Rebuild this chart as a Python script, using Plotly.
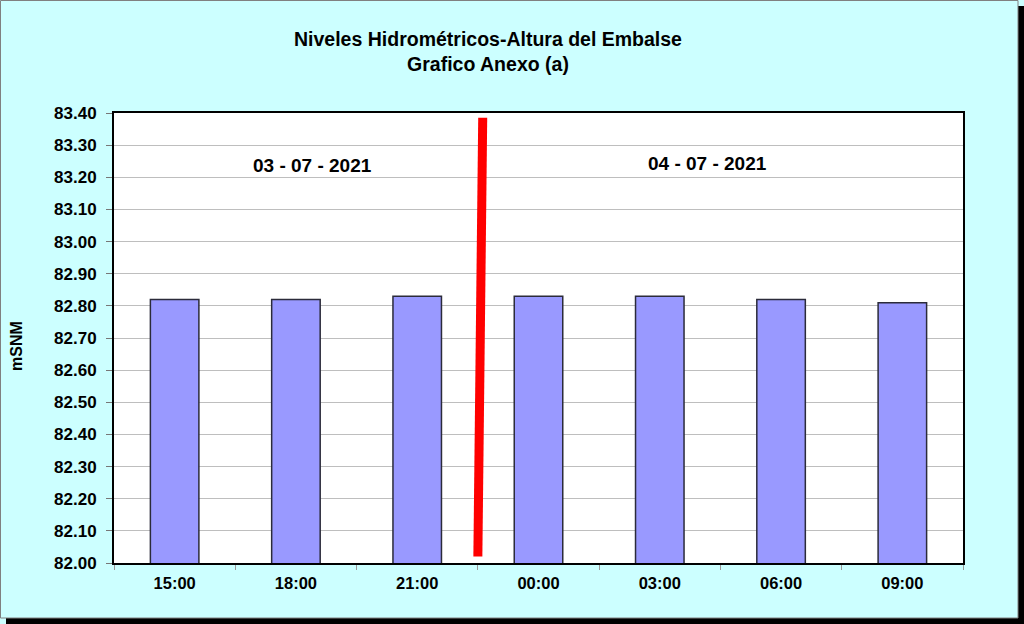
import plotly.graph_objects as go

# Reservoir level readings (m above sea level)
hours = ["15:00", "18:00", "21:00", "00:00", "03:00", "06:00", "09:00"]
levels = [82.82, 82.82, 82.83, 82.83, 82.83, 82.82, 82.81]
day_labels = ["03 - 07 - 2021", "04 - 07 - 2021"]
# red day-change marker, in axis units (category index, mSNM)
divider_x = [2.50, 2.54]
divider_y = [82.02, 83.385]
y_ticks = [82.0 + i * 0.1 for i in range(15)]

BG = "#CCFFFF"
BAR = "#9999FF"
FONT = "Arial, Liberation Sans, sans-serif"

# plot area in pixels, used to place frame pieces in paper coords
L, R, T, B = 114, 963, 113, 563
W, H = 1024, 624


def px(x):
    return (x - L) / (R - L)


def py(y):
    return (B - y) / (B - T)


fig = go.Figure()
fig.add_trace(go.Bar(
    x=hours, y=levels,
    marker=dict(color=BAR, line=dict(color="#2b2b3a", width=1.5)),
    width=0.4,
    hoverinfo="x+y",
))

fig.add_shape(type="line", xref="x", yref="y",
              x0=divider_x[0], y0=divider_y[0], x1=divider_x[1], y1=divider_y[1],
              line=dict(color="#FF0000", width=9), layer="above")

# drop shadow + thin outer border of the chart frame
fig.add_shape(type="rect", xref="paper", yref="paper",
              x0=px(1018), x1=px(W), y0=py(6), y1=py(H),
              fillcolor="black", line_width=0, layer="below")
fig.add_shape(type="rect", xref="paper", yref="paper",
              x0=px(6), x1=px(W), y0=py(618), y1=py(H),
              fillcolor="black", line_width=0, layer="below")
fig.add_shape(type="rect", xref="paper", yref="paper",
              x0=px(0.5), x1=px(1018), y0=py(0.5), y1=py(618),
              fillcolor="rgba(0,0,0,0)", line=dict(color="#808080", width=1), layer="below")


def label(text, x, y, size, angle=0):
    return dict(text="<b>%s</b>" % text, x=px(x), y=py(y), xref="paper", yref="paper",
                xanchor="center", yanchor="middle", showarrow=False, textangle=angle,
                font=dict(size=size, color="black", family=FONT))


annotations = [
    label("Niveles Hidrométricos-Altura del Embalse<br>Grafico Anexo (a)", 488, 52, 19.5),
    label("mSNM", 16, 346, 16, angle=-90),
    label(day_labels[0], 312, 165, 19),
    label(day_labels[1], 707, 163, 19),
]

fig.update_layout(
    width=W, height=H,
    margin=dict(l=L, r=W - R, t=T, b=H - B),
    paper_bgcolor=BG, plot_bgcolor="white",
    font=dict(family=FONT, color="black"),
    showlegend=False,
    annotations=annotations,
    xaxis=dict(type="category", tickson="boundaries", ticks="outside", ticklen=5,
               tickcolor="#999999", showgrid=False,
               showline=True, linecolor="black", linewidth=2, mirror=True,
               tickfont=dict(size=16.5, family=FONT), tickprefix="<b>", ticksuffix="</b>",
               ticklabelstandoff=4),
    yaxis=dict(range=[82.0, 83.4], tickvals=y_ticks,
               ticktext=["<b>%.2f</b>" % v for v in y_ticks],
               ticks="outside", ticklen=6, tickcolor="#777777",
               gridcolor="#BEBEBE", gridwidth=1, zeroline=False,
               showline=True, linecolor="black", linewidth=2, mirror=True,
               tickfont=dict(size=17, family=FONT), ticklabelstandoff=6),
)

fig.write_html("out.html", config={"displayModeBar": False},
               post_script="document.body.style.margin='0';")
